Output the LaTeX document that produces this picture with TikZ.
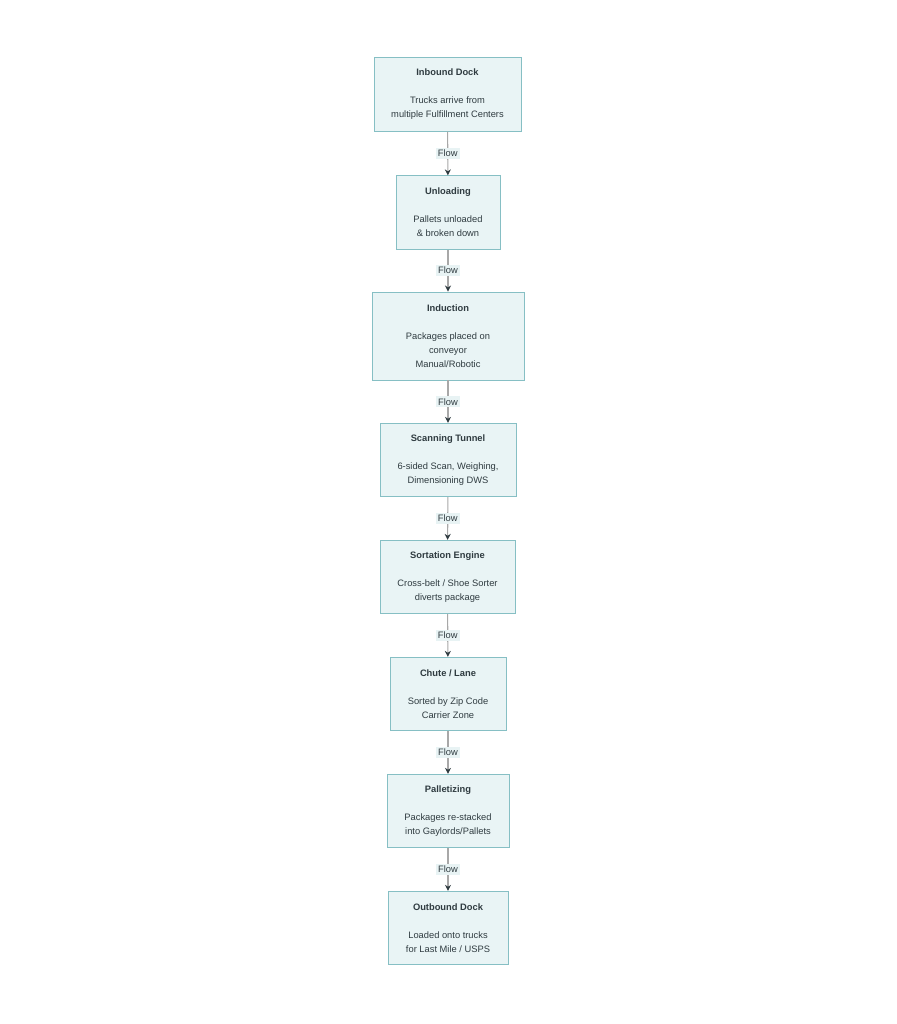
\documentclass[tikz,border=0pt]{standalone}
\usepackage{fontspec}
\setmainfont{Liberation Sans}
\usetikzlibrary{arrows.meta}
\definecolor{boxfill}{HTML}{E9F4F5}
\definecolor{boxline}{HTML}{86BFC4}
\definecolor{boxtext}{HTML}{2F3B40}
\definecolor{flowline}{HTML}{A8A8A8}
\definecolor{flowfill}{HTML}{E8F3F4}
\begin{document}
\begin{tikzpicture}[x=0.75pt,y=-0.75pt,
  stage/.style={draw=boxline,fill=boxfill,line width=0.7pt,text=boxtext,
    align=center,inner sep=0pt,minimum height=55pt,
    font=\fontsize{7}{10.5}\selectfont},
  flow/.style={draw=flowline,line width=0.8pt,
    -{Stealth[length=4.5pt,width=4.5pt,color=boxtext]}},
  flowlabel/.style={fill=flowfill,text=boxtext,inner sep=1.5pt,
    font=\fontsize{7}{8}\selectfont}]
\useasboundingbox (0,0) rectangle (896,1024);
% stages
\node[stage,minimum width=110.25pt] (inbound) at (447.5,94.5)
  {\textbf{Inbound Dock}\\[10.5pt]Trucks arrive from\\multiple Fulfillment Centers};
\node[stage,minimum width=78pt] (unload) at (448,212.5)
  {\textbf{Unloading}\\[10.5pt]Pallets unloaded\\\& broken down};
\node[stage,minimum width=114pt,minimum height=66pt] (induct) at (448,336)
  {\textbf{Induction}\\[10.5pt]Packages placed on\\conveyor\\Manual/Robotic};
\node[stage,minimum width=102pt] (scan) at (448,460)
  {\textbf{Scanning Tunnel}\\[10.5pt]6-sided Scan, Weighing,\\Dimensioning DWS};
\node[stage,minimum width=101.25pt] (sort) at (447.5,577)
  {\textbf{Sortation Engine}\\[10.5pt]Cross-belt / Shoe Sorter\\diverts package};
\node[stage,minimum width=87pt] (chute) at (448,694)
  {\textbf{Chute / Lane}\\[10.5pt]Sorted by Zip Code\\Carrier Zone};
\node[stage,minimum width=91.5pt] (pallet) at (448,811)
  {\textbf{Palletizing}\\[10.5pt]Packages re-stacked\\into Gaylords/Pallets};
\node[stage,minimum width=90pt] (outbound) at (448,928)
  {\textbf{Outbound Dock}\\[10.5pt]Loaded onto trucks\\for Last Mile / USPS};
% flows
\foreach \a/\b in {inbound/unload,unload/induct,induct/scan,scan/sort,
                   sort/chute,chute/pallet,pallet/outbound}
  \draw[flow] (\a) -- node[flowlabel] {Flow} (\b);
\end{tikzpicture}
\end{document}
